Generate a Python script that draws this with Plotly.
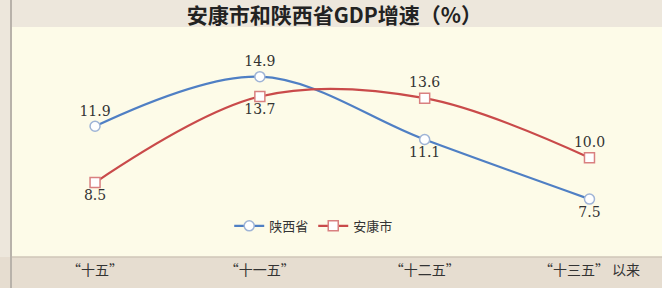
import plotly.graph_objects as go

categories = ["“十五”", "“十一五”", "“十二五”", "“十三五” 以来"]
shaanxi = [11.9, 14.9, 11.1, 7.5]
ankang = [8.5, 13.7, 13.6, 10.0]
shaanxi_pos = ["top center", "top center", "bottom center", "bottom center"]
ankang_pos = ["bottom center", "bottom center", "top center", "top center"]

x = list(range(len(categories)))
lab_font = dict(family="DejaVu Serif, Liberation Serif, serif", size=14, color="#333333")

fig = go.Figure()
fig.add_trace(go.Scatter(
    x=x, y=shaanxi, name="陕西省", mode="lines+markers+text",
    line=dict(color="#4f7fc4", width=2.2, shape="spline", smoothing=1.0),
    marker=dict(symbol="circle", size=10, color="#ffffff", line=dict(color="#9fb4d6", width=1.5)),
    text=[f"{v:.1f}" for v in shaanxi], textposition=shaanxi_pos, textfont=lab_font,
))
fig.add_trace(go.Scatter(
    x=x, y=ankang, name="安康市", mode="lines+markers+text",
    line=dict(color="#c94a4a", width=2.2, shape="spline", smoothing=1.0),
    marker=dict(symbol="square", size=10, color="#ffffff", line=dict(color="#d98080", width=1.5)),
    text=[f"{v:.1f}" for v in ankang], textposition=ankang_pos, textfont=lab_font,
))

shapes = [
    dict(type="rect", xref="paper", yref="paper", x0=-0.1, x1=1.1, y0=1, y1=1.2,
         fillcolor="#ede7dc", line=dict(width=0), layer="below"),
    dict(type="rect", xref="paper", yref="paper", x0=-0.1, x1=1.1, y0=-0.2, y1=0,
         fillcolor="#e6ddd0", line=dict(width=0), layer="below"),
    dict(type="line", xref="paper", yref="paper", x0=0, x1=1, y0=0, y1=0,
         line=dict(color="#cfc6b8", width=1.5)),
    dict(type="line", xref="paper", yref="paper", x0=0, x1=0, y0=-0.2, y1=1.2,
         line=dict(color="#b8b2aa", width=2)),
]

fig.update_layout(
    width=662, height=288,
    margin=dict(l=11, r=0, t=27, b=31, autoexpand=False),
    paper_bgcolor="#ede7dc",
    plot_bgcolor="#fdfbe8",
    showlegend=True,
    legend=dict(orientation="h", x=0.465, xanchor="center", y=0.07, yanchor="bottom",
                bgcolor="rgba(0,0,0,0)", font=dict(family="Noto Sans CJK SC", size=13, color="#333"),
                traceorder="normal"),
    title=dict(text="<b>安康市和陕西省GDP增速（%）</b>",
               x=0.505, xanchor="center", y=0.945, yanchor="middle",
               font=dict(family="Noto Sans CJK SC", size=21, color="#222222")),
    xaxis=dict(range=[-0.51, 3.44], tickvals=x, ticktext=categories, showgrid=False, zeroline=False,
               showline=False, ticks="", automargin=False,
               tickfont=dict(family="Noto Sans CJK SC", size=14, color="#333"),
               ticklabelstandoff=3),
    yaxis=dict(range=[4.0, 17.9], visible=False, showgrid=False, zeroline=False, automargin=False),
    shapes=shapes,
)

fig.write_html("out.html", config={"displayModeBar": False},
               post_script="document.body.style.margin='0';document.body.style.overflow='hidden';")
